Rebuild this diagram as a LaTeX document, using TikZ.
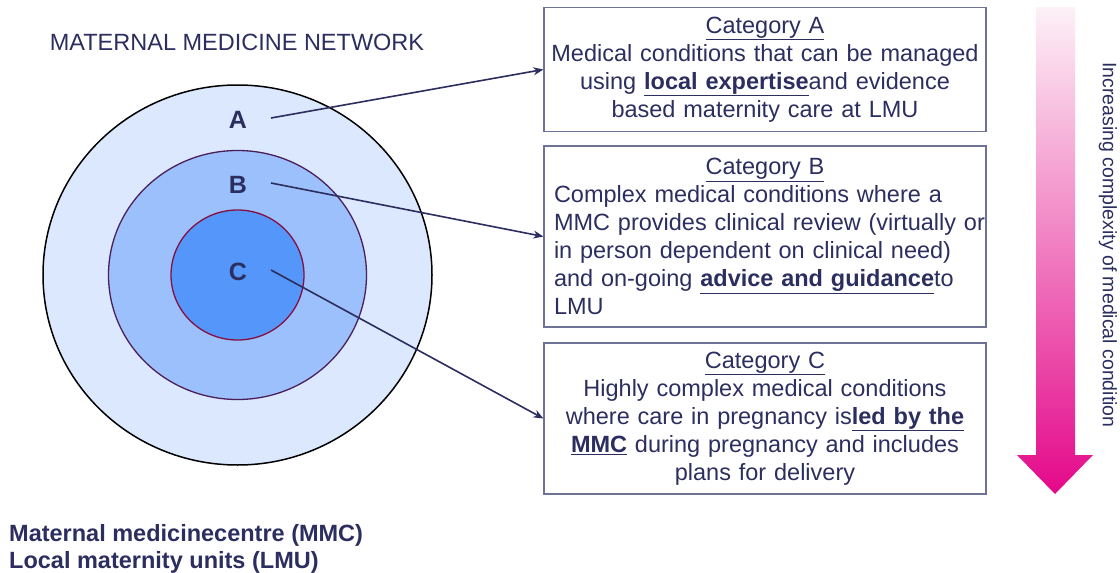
\documentclass[tikz,border=0pt]{standalone}
\usepackage{fontspec}
\setmainfont{Liberation Sans}
\usetikzlibrary{arrows.meta}

\definecolor{navy}{HTML}{2B2E5E}
\definecolor{boxline}{HTML}{6E7294}
\definecolor{ringA}{HTML}{DCE8FD}
\definecolor{ringB}{HTML}{9CC0FB}
\definecolor{ringC}{HTML}{5596FA}
\definecolor{edgeB}{HTML}{4A1F5A}
\definecolor{edgeC}{HTML}{85103F}
\definecolor{pinktop}{HTML}{FDF1F7}
\definecolor{pinkbot}{HTML}{E4088A}

\begin{document}
\begin{tikzpicture}[x=1pt,y=-1pt,
    every node/.style={text=navy},
    catbox/.style={draw=boxline, line width=1.2pt, minimum width=442pt,
        text width=436pt, inner xsep=3pt, inner ysep=0pt, align=center,
        font=\fontsize{23.5}{28}\selectfont},
    ringlabel/.style={inner sep=0pt, font=\fontsize{25}{30}\selectfont\bfseries},
    link/.style={draw=navy, line width=1.6pt, -{Stealth[length=10pt,width=8pt]}}]
                \useasboundingbox (0,0) rectangle (1120,573);

                % タイトル
                \node[font=\fontsize{23.5}{28}\selectfont] (title) at (237,42) {MATERNAL MEDICINE NETWORK};

                % 同心円を描画(外側から3つ)
                \foreach \rx/\ry/\fc/\dc/\lw in {194.5/190/ringA/black/1.5, 129/124.5/ringB/edgeB/1.3, 66.5/65/ringC/edgeC/1.3}
                    \draw[draw=\dc, fill=\fc, line width=\lw pt] (237.5,275) ellipse [x radius=\rx pt, y radius=\ry pt];

                % A, B, C のラベル
                \foreach \n/\y in {A/120,B/185,C/272}
                    \node[ringlabel] (lab\n) at (238,\y) {\n};

                % カテゴリの箱
                \node[catbox, minimum height=124pt] (catA) at (765,69.5) {%
                    \underline{Category A}\\
                    Medical conditions that can be managed\\
                    using \underline{\textbf{local expertise}}and evidence\\
                    based maternity care at LMU};
                \node[catbox, text width=422pt, inner xsep=10pt, align=left, minimum height=181pt] (catB) at (765,236.5) {%
                    \makebox[422pt]{\underline{Category B}}\\
                    Complex medical conditions where a\\
                    \mbox{MMC provides clinical review (virtually or}\\
                    in person dependent on clinical need)\\
                    and on-going \underline{\textbf{advice and guidance}}to\\
                    LMU};
                \node[catbox, minimum height=151pt] (catC) at (765,418.5) {%
                    \underline{Category C}\\
                    Highly complex medical conditions\\
                    where care in pregnancy is\underline{\textbf{led by the}}\\
                    \underline{\textbf{MMC}} during pregnancy and includes\\
                    plans for delivery};

                % ラベルから箱への矢印
                \foreach \n in {A,B,C}
                    \draw[link] ([xshift=33pt,yshift=2pt]lab\n.center) -- (cat\n.west);

                % 右側のグラデーション矢印
                \shade[top color=pinktop, bottom color=pinkbot]
                    (1036,7) -- (1075,7) -- (1075,455) -- (1093,455) -- (1055,494)
                    -- (1017,455) -- (1036,455) -- cycle;
                \node[rotate=-90, font=\fontsize{19.5}{24}\selectfont] (complexity) at (1108,245) {Increasing complexity of medical condition};

                % 左下の説明
                \node[anchor=west, align=left, inner sep=0pt, font=\fontsize{23.5}{27}\selectfont\bfseries] (legend) at (9,548.5) {Maternal medicinecentre (MMC)\\Local maternity units (LMU)};
            \end{tikzpicture}
\end{document}
